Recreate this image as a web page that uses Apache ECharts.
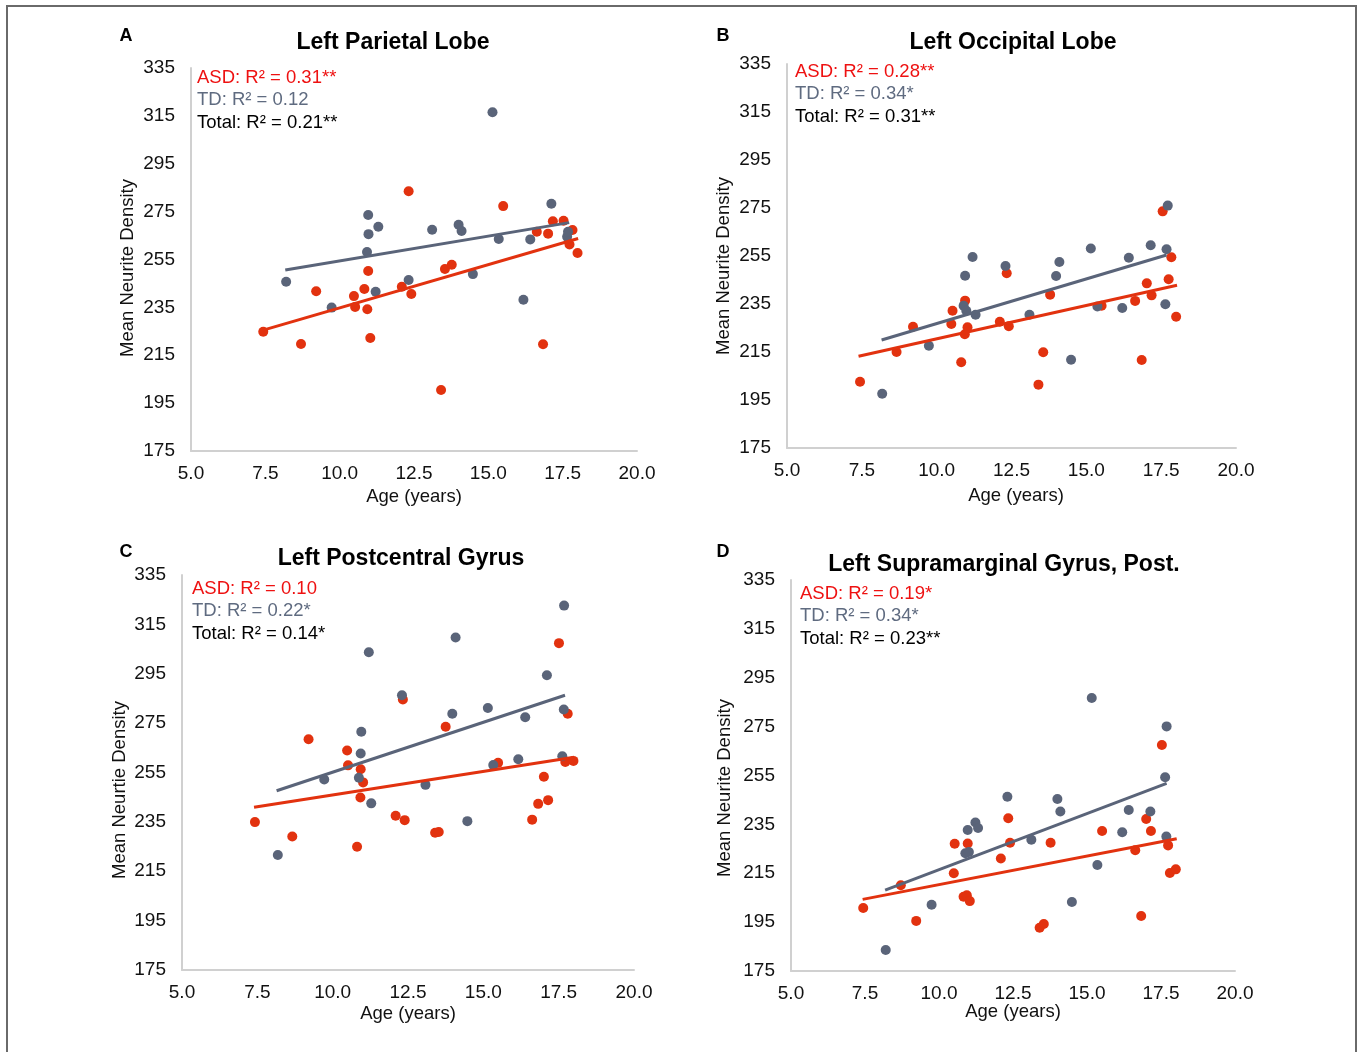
<!DOCTYPE html>
<html>
<head>
<meta charset="utf-8">
<script src="https://cdn.jsdelivr.net/npm/echarts@6/dist/echarts.min.js"></script>
<style>
  html, body { margin: 0; padding: 0; background: #fff; }
  #main { width: 1357px; height: 1052px; }
</style>
</head>
<body>
<div id="main"></div>
<script>
// axis ticks
const xTicks = [5, 7.5, 10, 12.5, 15, 17.5, 20]
const yTicks = [175, 195, 215, 235, 255, 275, 295, 315, 335]

// A - Left Parietal Lobe  [age, density]
const parietalAsd = [[7.43,224.8],[8.70,219.7],[9.21,241.7],[10.48,239.7],[10.52,235.2],[10.83,242.7],[10.93,234.2],[10.96,250.2],[11.03,222.2],[12.09,243.6],[12.32,283.5],[12.41,240.6],[13.41,200.5],[13.54,251.0],[13.77,252.8],[15.50,277.3],[16.63,266.6],[16.84,219.6],[17.01,265.8],[17.17,271.0],[17.53,271.2],[17.73,261.3],[17.83,267.3],[18.00,257.7]]
const parietalTd = [[8.20,245.7],[9.73,234.9],[10.92,258.1],[10.96,273.6],[10.97,265.6],[11.21,241.5],[11.30,268.7],[12.32,246.4],[13.11,267.4],[14.00,269.5],[14.10,266.9],[14.48,248.9],[15.14,316.5],[15.35,263.6],[16.18,238.2],[16.41,263.4],[17.12,278.3],[17.65,264.5],[17.68,266.6]]
const parietalAsdFit = [[7.43,225.5],[18.02,263.8]]
const parietalTdFit = [[8.17,250.6],[17.72,270.4]]

// B - Left Occipital Lobe
const occipitalAsd = [[7.44,202.6],[8.66,215.0],[9.21,225.5],[10.49,226.7],[10.53,232.2],[10.82,210.7],[10.94,222.4],[10.95,236.4],[11.03,225.3],[12.11,227.6],[12.34,247.8],[12.41,225.7],[13.40,201.4],[13.56,214.9],[13.79,238.9],[15.51,234.3],[16.63,236.3],[16.85,211.7],[17.02,243.6],[17.18,238.6],[17.55,273.6],[17.75,245.3],[17.84,254.5],[18.00,229.7]]
const occipitalTd = [[8.18,197.6],[9.74,217.6],[10.90,234.3],[10.95,246.8],[10.99,232.2],[11.20,254.6],[11.30,230.5],[12.30,250.8],[13.10,230.5],[13.99,246.7],[14.10,252.5],[14.49,211.8],[15.15,258.1],[15.37,234.0],[16.20,233.3],[16.42,254.3],[17.15,259.5],[17.64,234.9],[17.68,257.8],[17.72,276.0]]
const occipitalAsdFit = [[7.39,213.2],[18.03,242.8]]
const occipitalTdFit = [[8.16,220.0],[17.68,255.4]]

// C - Left Postcentral Gyrus
const postcentralAsd = [[7.42,234.9],[8.66,229.1],[9.20,268.5],[10.48,263.9],[10.51,257.9],[10.81,224.9],[10.92,244.9],[10.93,256.3],[11.01,251.0],[12.09,237.5],[12.33,284.6],[12.39,235.7],[13.40,230.6],[13.52,230.9],[13.75,273.5],[15.49,258.9],[16.62,235.9],[16.82,242.3],[17.01,253.3],[17.15,243.8],[17.51,307.4],[17.72,259.3],[17.80,278.8],[17.99,259.7]]
const postcentralTd = [[8.18,221.6],[9.72,252.2],[10.87,252.9],[10.93,262.7],[10.95,271.5],[11.20,303.7],[11.28,242.5],[12.30,286.3],[13.08,250.0],[13.97,278.8],[14.08,309.7],[14.47,235.3],[15.15,281.1],[15.33,258.0],[16.16,260.4],[16.39,277.4],[17.11,294.4],[17.62,261.6],[17.67,280.5],[17.68,322.6]]
const postcentralAsdFit = [[7.39,240.9],[18.01,261.2]]
const postcentralTdFit = [[8.14,247.6],[17.71,286.3]]

// D - Left Supramarginal Gyrus, Post.
const supramarginalAsd = [[7.44,200.8],[8.71,210.1],[9.23,195.5],[10.50,215.0],[10.53,227.1],[10.83,205.4],[10.94,206.0],[10.97,227.2],[11.04,203.6],[12.09,221.0],[12.34,237.5],[12.40,227.5],[13.40,192.7],[13.54,194.2],[13.77,227.5],[15.51,232.3],[16.63,224.4],[16.83,197.5],[17.00,237.2],[17.16,232.3],[17.53,267.5],[17.74,226.4],[17.80,215.1],[18.00,216.6]]
const supramarginalTd = [[8.20,183.6],[9.75,202.1],[10.89,223.2],[10.97,232.7],[11.01,223.7],[11.23,235.8],[11.32,233.5],[12.31,246.3],[13.12,228.7],[14.00,245.4],[14.10,240.3],[14.49,203.2],[15.16,286.7],[15.35,218.4],[16.19,231.8],[16.41,240.9],[17.14,240.3],[17.64,254.3],[17.68,230.0],[17.69,275.1]]
const supramarginalAsdFit = [[7.42,204.3],[18.03,229.1]]
const supramarginalTdFit = [[8.18,208.1],[17.69,251.8]]

const titles = ['Left Parietal Lobe', 'Left Occipital Lobe', 'Left Postcentral Gyrus', 'Left Supramarginal Gyrus, Post.']
const letters = ['A', 'B', 'C', 'D']
const yNames = ['Mean Neurite Density', 'Mean Neurite Density', 'Mean Neurtie Density', 'Mean Neurite Density']
const asdStats = ['ASD: R² = 0.31**', 'ASD: R² = 0.28**', 'ASD: R² = 0.10', 'ASD: R² = 0.19*']
const tdStats = ['TD: R² = 0.12', 'TD: R² = 0.34*', 'TD: R² = 0.22*', 'TD: R² = 0.34*']
const totalStats = ['Total: R² = 0.21**', 'Total: R² = 0.31**', 'Total: R² = 0.14*', 'Total: R² = 0.23**']

const asdPts = [parietalAsd, occipitalAsd, postcentralAsd, supramarginalAsd]
const tdPts = [parietalTd, occipitalTd, postcentralTd, supramarginalTd]
const asdFits = [parietalAsdFit, occipitalAsdFit, postcentralAsdFit, supramarginalAsdFit]
const tdFits = [parietalTdFit, occipitalTdFit, postcentralTdFit, supramarginalTdFit]

const RED = '#e2320f'
const GREY = '#5a6479'
const FONT = '"Liberation Sans", Arial, sans-serif'

// panel placement
const grids = [
  { left: 191, top: 68, width: 446, height: 383 },
  { left: 787, top: 64, width: 449, height: 384 },
  { left: 182, top: 575, width: 452, height: 395 },
  { left: 791, top: 580, width: 444, height: 391 }
]
const titlePos = [[393, 43], [1013, 43], [401, 559], [1004, 565]]
const letterPos = [[126, 36], [723, 36], [126, 552], [723, 552]]
const xNamePos = [[414, 497], [1016, 496], [408, 1014], [1013, 1012]]
const yNamePos = [[128, 268], [724, 266], [120, 790], [725, 788]]
const statPos = [[197, 78], [795, 72], [192, 589], [800, 594]]

const myChart = echarts.init(document.getElementById('main'))

const xAxis = [], yAxis = [], series = [], graphic = []

graphic.push({
  type: 'rect', shape: { x: 7, y: 6, width: 1349, height: 1060 },
  style: { fill: 'none', stroke: '#6a6a6a', lineWidth: 2 }, silent: true
})

function txt (x, y, text, size, color, weight, align, rot) {
  return {
    type: 'text', x: x, y: y, rotation: rot || 0,
    style: {
      text: text, fill: color, font: (weight || 'normal') + ' ' + size + 'px ' + FONT,
      align: align || 'center', verticalAlign: 'middle',
      textAlign: align || 'center', textVerticalAlign: 'middle'
    },
    silent: true
  }
}

grids.forEach((g, i) => {
  xAxis.push({
    type: 'value', gridIndex: i, min: xTicks[0], max: xTicks[xTicks.length - 1], interval: 2.5,
    axisLine: { show: true, lineStyle: { color: '#d0d0d0', width: 2 } },
    axisTick: { show: false }, splitLine: { show: false },
    axisLabel: { margin: 13, fontSize: 19, color: '#111', fontFamily: FONT, formatter: v => v.toFixed(1) }
  })
  yAxis.push({
    type: 'value', gridIndex: i, min: yTicks[0], max: yTicks[yTicks.length - 1], interval: 20,
    axisLine: { show: true, lineStyle: { color: '#d0d0d0', width: 2 } },
    axisTick: { show: false }, splitLine: { show: false },
    axisLabel: { margin: 16, fontSize: 19, color: '#111', fontFamily: FONT }
  })
  series.push({
    type: 'scatter', xAxisIndex: i, yAxisIndex: i, data: asdPts[i],
    symbolSize: 10, itemStyle: { color: RED, opacity: 1 }, z: 2
  })
  series.push({
    type: 'scatter', xAxisIndex: i, yAxisIndex: i, data: tdPts[i],
    symbolSize: 10, itemStyle: { color: GREY, opacity: 1 }, z: 2
  })
  series.push({
    type: 'line', xAxisIndex: i, yAxisIndex: i, data: tdFits[i], showSymbol: false,
    lineStyle: { color: GREY, width: 3 }, z: 3
  })
  series.push({
    type: 'line', xAxisIndex: i, yAxisIndex: i, data: asdFits[i], showSymbol: false,
    lineStyle: { color: RED, width: 3 }, z: 3
  })

  graphic.push(txt(titlePos[i][0], titlePos[i][1], titles[i], 23, '#000', 'bold'))
  graphic.push(txt(letterPos[i][0], letterPos[i][1], letters[i], 18, '#000', 'bold'))
  graphic.push(txt(xNamePos[i][0], xNamePos[i][1], 'Age (years)', 18.5, '#111'))
  graphic.push(txt(yNamePos[i][0], yNamePos[i][1], yNames[i], 18.5, '#111', 'normal', 'center', Math.PI / 2))
  graphic.push(txt(statPos[i][0], statPos[i][1], asdStats[i], 18.5, '#ee1111', 'normal', 'left'))
  graphic.push(txt(statPos[i][0], statPos[i][1] + 22, tdStats[i], 18.5, '#5f6b80', 'normal', 'left'))
  graphic.push(txt(statPos[i][0], statPos[i][1] + 45, totalStats[i], 18.5, '#000', 'normal', 'left'))
})

myChart.setOption({
  animation: false,
  backgroundColor: '#fff',
  grid: grids.map(g => Object.assign({ containLabel: false }, g)),
  xAxis: xAxis,
  yAxis: yAxis,
  series: series,
  graphic: graphic
})
</script>
</body>
</html>
